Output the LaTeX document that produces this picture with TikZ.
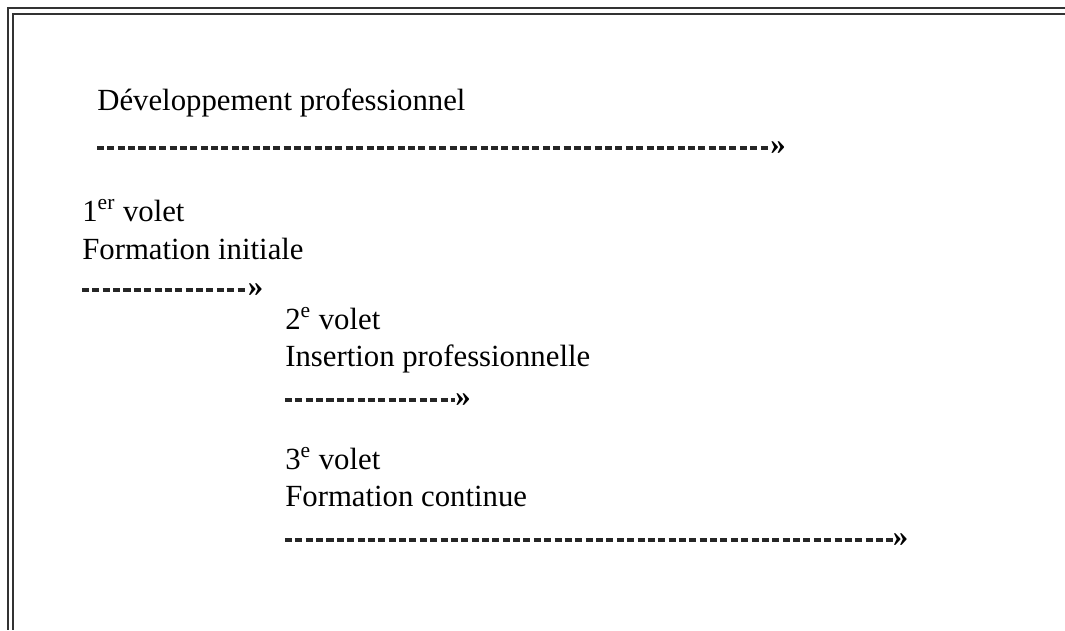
\documentclass[tikz,border=0pt]{standalone}
\usepackage{fontspec}
\setmainfont{Liberation Serif}
\begin{document}
\begin{tikzpicture}[
    txt/.style={anchor=base west, inner sep=0pt, font=\fontsize{17.5pt}{21pt}\selectfont},
    tip/.style={anchor=west, inner sep=0pt, font=\fontsize{17.5pt}{21pt}\selectfont\bfseries},
    dashline/.style={line width=1.8pt, color=black!85, dash pattern=on 4pt off 1.9pt}
]
\useasboundingbox (0, 0) rectangle (21.3, 12.6);

% frame
\draw [line width=1pt, black!80] (21.3, 12.44) -- (0.16, 12.44) -- (0.16, 0);
\draw [line width=1pt, black!80] (21.3, 12.32) -- (0.26, 12.32) -- (0.26, 0);

% development
\node (dev) at (1.94, 10.4) [txt] {Développement professionnel};
\coordinate (s1) at (1.94, 9.64);
\node (e1) at (15.4, 9.64) [tip] {»};
\draw [dashline] (s1) -- (e1.west);

% 1st part
\node (v1) at (1.64, 8.18) [txt] {1\textsuperscript{er} volet};
\node (f1) at (1.64, 7.42) [txt] {Formation initiale};
\coordinate (s2) at (1.64, 6.8);
\node (e2) at (4.95, 6.8) [tip] {»};
\draw [dashline] (s2) -- (e2.west);

% 2nd part
\node (v2) at (5.7, 6.02) [txt] {2\textsuperscript{e} volet};
\node (f2) at (5.7, 5.28) [txt] {Insertion professionnelle};
\coordinate (s3) at (5.7, 4.6);
\node (e3) at (9.1, 4.6) [tip] {»};
\draw [dashline] (s3) -- (e3.west);

% 3rd part
\node (v3) at (5.7, 3.22) [txt] {3\textsuperscript{e} volet};
\node (f3) at (5.7, 2.48) [txt] {Formation continue};
\coordinate (s4) at (5.7, 1.8);
\node (e4) at (17.85, 1.8) [tip] {»};
\draw [dashline] (s4) -- (e4.west);
\end{tikzpicture}
\end{document}
